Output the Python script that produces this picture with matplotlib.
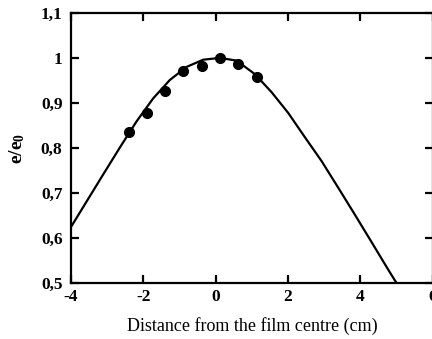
import matplotlib
matplotlib.use("Agg")
import matplotlib.pyplot as plt
from matplotlib.ticker import FuncFormatter

# Data
curve_x = [-4.0, -3.566, -3.108, -2.646, -2.185, -1.727, -1.265, -0.804, -0.345, 0.116, 0.577,
           1.083, 1.544, 2.003, 2.464, 2.925, 3.384, 3.845, 4.307, 4.765, 4.997]
curve_y = [0.624, 0.681, 0.741, 0.801, 0.859, 0.910, 0.951, 0.980, 0.996, 1.000, 0.994,
           0.964, 0.924, 0.878, 0.824, 0.771, 0.712, 0.652, 0.591, 0.530, 0.500]
pts_x = [-2.39, -1.91, -1.40, -0.90, -0.39, 0.12, 0.62, 1.13]
pts_y = [0.836, 0.877, 0.927, 0.970, 0.983, 0.999, 0.986, 0.958]
xticks = [-4, -2, 0, 2, 4, 6]
yticks = [0.5, 0.6, 0.7, 0.8, 0.9, 1.0, 1.1]

plt.rcParams['mathtext.fontset'] = 'custom'
plt.rcParams['mathtext.rm'] = 'Liberation Serif:bold'
plt.rcParams['mathtext.bf'] = 'Liberation Serif:bold'
plt.rcParams['mathtext.it'] = 'Liberation Serif:bold'

fig = plt.figure(figsize=(4.32, 3.39), dpi=100)
ax = fig.add_axes([0.164, 0.165, 0.838, 0.797])
ax.plot(curve_x, curve_y, color='black', lw=1.6, solid_joinstyle='round')
ax.plot(pts_x, pts_y, 'o', color='black', ms=7)
ax.set_xlim(-4, 6)
ax.set_ylim(0.5, 1.1)
ax.set_xticks(xticks)
ax.set_yticks(yticks)

def yfmt(v, pos):
    s = f"{v:.1f}".replace('.', ',')
    if s == '1,0':
        s = '1'
    return s
ax.yaxis.set_major_formatter(FuncFormatter(yfmt))
ax.xaxis.set_major_formatter(FuncFormatter(lambda v, p: f"{int(v)}"))

for sp in ax.spines.values():
    sp.set_linewidth(1.6)
ax.tick_params(direction='in', length=6, width=1.6, top=True, right=True)
ax.tick_params(axis='y', pad=6)
ax.tick_params(axis='x', pad=4)
for lab in ax.get_xticklabels() + ax.get_yticklabels():
    lab.set_fontfamily('Liberation Serif')
    lab.set_fontweight('bold')
    lab.set_fontsize(12.5)

ax.set_xlabel('Distance from the film centre (cm)', fontfamily='Liberation Serif', fontsize=13, labelpad=9)
ax.set_ylabel(r'$\mathbf{e/e_0}$', fontsize=14, labelpad=10)

fig.savefig('out.png', dpi=100)
